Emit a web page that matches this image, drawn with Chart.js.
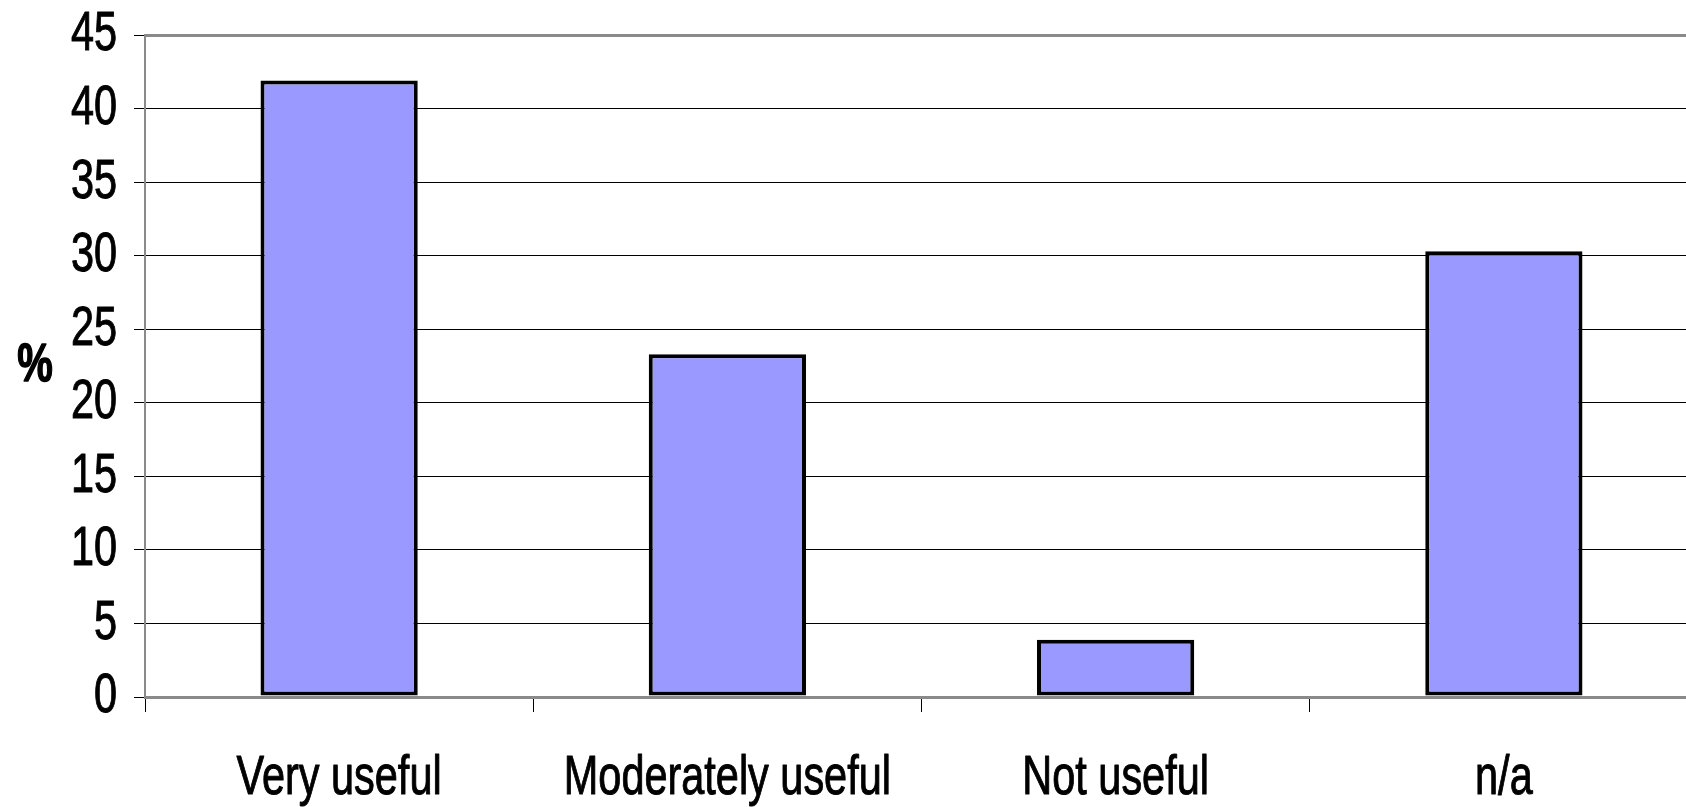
<!DOCTYPE html>
<html>
<head>
<meta charset="utf-8">
<script src="https://cdn.jsdelivr.net/npm/chart.js@4/dist/chart.umd.min.js"></script>
<style>
  html, body { margin: 0; padding: 0; background: #fff; overflow: hidden; }
  #wrap { position: relative; width: 1700px; height: 807px; }
</style>
</head>
<body>
<div id="wrap"><canvas id="chart"></canvas></div>
<script>
// Survey answers: share of respondents (%)
const categories = ['Very useful', 'Moderately useful', 'Not useful', 'n/a'];
const percentages = [41.9, 23.3, 3.9, 30.3];
const yTicks = [0, 5, 10, 15, 20, 25, 30, 35, 40, 45];

const FONT = '"Liberation Sans", Arial, sans-serif';
const SQUEEZE = 0.74; // horizontal compression giving a condensed look to the labels

// Draws tick labels compressed horizontally around their anchor point
function squeezedDrawLabels(chartArea) {
  const opts = this.options;
  if (!opts.display || !opts.ticks.display) return;
  const ctx = this.ctx;
  const items = this.getLabelItems(chartArea);
  for (const item of items) {
    const o = item.options;
    ctx.save();
    ctx.font = item.font.string;
    ctx.fillStyle = o.color;
    ctx.strokeStyle = o.color;
    ctx.lineWidth = 1;
    ctx.lineJoin = 'round';
    ctx.textAlign = o.textAlign;
    ctx.textBaseline = o.textBaseline;
    ctx.translate(o.translation[0], o.translation[1]);
    if (o.rotation) ctx.rotate(o.rotation);
    ctx.scale(SQUEEZE, 1);
    const lines = Array.isArray(item.label) ? item.label : [item.label];
    let y = item.textOffset;
    for (const line of lines) {
      ctx.fillText(line, 0, y);
      ctx.strokeText(line, 0, y);
      y += item.font.lineHeight;
    }
    ctx.restore();
  }
}

class NarrowCategoryScale extends Chart.CategoryScale {}
NarrowCategoryScale.id = 'narrowCategory';
NarrowCategoryScale.defaults = Chart.CategoryScale.defaults;
NarrowCategoryScale.prototype.drawLabels = squeezedDrawLabels;

class NarrowLinearScale extends Chart.LinearScale {}
NarrowLinearScale.id = 'narrowLinear';
NarrowLinearScale.defaults = Chart.LinearScale.defaults;
NarrowLinearScale.prototype.drawLabels = squeezedDrawLabels;

Chart.register(NarrowCategoryScale, NarrowLinearScale);

// Unrotated bold "%" unit label to the left of the value axis
const unitLabel = {
  id: 'unitLabel',
  afterDraw(chart) {
    const { ctx, chartArea } = chart;
    ctx.save();
    ctx.font = 'bold 54px ' + FONT;
    ctx.fillStyle = '#000';
    ctx.strokeStyle = '#000';
    ctx.lineWidth = 1.5;
    ctx.lineJoin = 'round';
    ctx.textAlign = 'center';
    ctx.textBaseline = 'middle';
    ctx.translate(35, (chartArea.top + chartArea.bottom) / 2);
    ctx.scale(SQUEEZE, 1);
    ctx.fillText('%', 0, 0);
    ctx.strokeText('%', 0, 0);
    ctx.restore();
  }
};

const edgeColor = '#8a8a8a';

new Chart(document.getElementById('chart'), {
  type: 'bar',
  data: {
    labels: categories,
    datasets: [{
      data: percentages,
      backgroundColor: '#9999ff',
      borderColor: '#000',
      borderWidth: 4,
      borderSkipped: false,
      categoryPercentage: 1,
      barPercentage: 0.405
    }]
  },
  options: {
    responsive: true,
    maintainAspectRatio: false,
    animation: false,
    devicePixelRatio: 1,
    layout: { autoPadding: false, padding: { top: 35, right: 2, bottom: 0, left: 0 } },
    plugins: { legend: { display: false }, tooltip: { enabled: false } },
    scales: {
      x: {
        type: 'narrowCategory',
        offset: true,
        grid: {
          offset: true,
          drawOnChartArea: false,
          drawTicks: true,
          tickLength: 15,
          color: '#000',
          lineWidth: 1
        },
        border: { display: true, color: edgeColor, width: 3 },
        ticks: {
          color: '#000',
          font: { family: FONT, size: 56 },
          padding: 33,
          autoSkip: false,
          maxRotation: 0,
          minRotation: 0
        },
        afterFit(scale) { scale.height = 110; }
      },
      y: {
        type: 'narrowLinear',
        min: 0,
        max: 45,
        afterBuildTicks(scale) { scale.ticks = yTicks.map(v => ({ value: v })); },
        grid: {
          color: ctx => (ctx.tick && (ctx.tick.value === 45 || ctx.tick.value === 0)) ? edgeColor : '#000',
          lineWidth: ctx => (ctx.tick && (ctx.tick.value === 45 || ctx.tick.value === 0)) ? 3 : 1,
          tickColor: '#000',
          tickWidth: 1,
          tickLength: 11,
          drawTicks: true
        },
        border: { display: true, color: edgeColor, width: 2 },
        ticks: {
          color: '#000',
          font: { family: FONT, size: 56, lineHeight: 0.6 },
          padding: 17
        },
        afterFit(scale) { scale.width = 145; }
      }
    }
  },
  plugins: [unitLabel]
});
</script>
</body>
</html>
